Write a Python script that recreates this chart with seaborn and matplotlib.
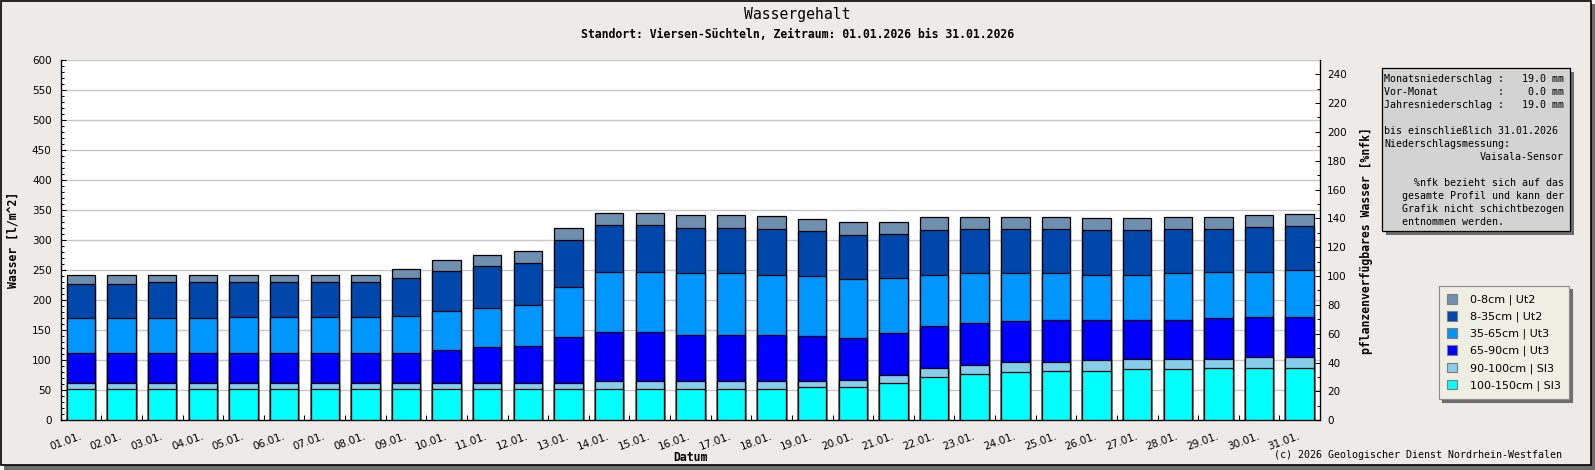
import numpy as np
import pandas as pd
import seaborn as sns
import matplotlib
matplotlib.use("Agg")
import matplotlib.pyplot as plt
from matplotlib.patches import Patch, Rectangle
from matplotlib.ticker import FixedLocator, MultipleLocator

# --- data (l/m^2 per soil layer) ---
days = ["%02d.01." % d for d in range(1, 32)]
layers = ["0-8cm | Ut2", "8-35cm | Ut2", "35-65cm | Ut3",
          "65-90cm | Ut3", "90-100cm | Sl3", "100-150cm | Sl3"]
colors = ["#6F8FAF", "#0047AB", "#0096FF", "#0000FF", "#87CEEB", "#00FFFF"]

s_0_8 = [14, 15, 13, 13, 13, 13, 13, 13, 15, 19, 18, 20, 20, 20, 20, 22,
         22, 22, 20, 22, 20, 21, 20, 20, 20, 20, 20, 20, 20, 20, 20]
s_8_35 = [57, 57, 59, 59, 57, 57, 57, 57, 63, 67, 69, 69, 77, 77, 77, 75,
          75, 75, 75, 73, 73, 74, 73, 73, 73, 74, 74, 73, 71, 74, 73]
s_35_65 = [59, 58, 58, 58, 60, 60, 60, 60, 61, 64, 66, 69, 84, 101, 101, 102,
           103, 101, 100, 97, 92, 86, 83, 80, 78, 76, 75, 77, 76, 76, 78]
s_65_90 = [49, 50, 50, 50, 50, 50, 50, 50, 50, 55, 59, 61, 76, 82, 82, 78,
           77, 77, 75, 71, 70, 70, 69, 68, 69, 67, 66, 65, 68, 67, 67]
s_90_100 = [10, 10, 10, 10, 10, 10, 10, 10, 10, 10, 10, 10, 10, 12, 12, 12,
            12, 12, 10, 12, 13, 14, 16, 17, 16, 17, 17, 18, 16, 18, 17]
s_100_150 = [53, 53, 53, 53, 53, 53, 53, 53, 53, 53, 53, 53, 53, 53, 53, 53,
             53, 53, 55, 55, 62, 73, 77, 80, 82, 83, 85, 85, 87, 87, 88]

info_lines = [
    ("Monatsniederschlag :   19.0 mm", "left"),
    ("Vor-Monat          :    0.0 mm", "left"),
    ("Jahresniederschlag :   19.0 mm", "left"),
    ("", "left"),
    ("bis einschließlich 31.01.2026", "left"),
    ("Niederschlagsmessung:", "left"),
    ("Vaisala-Sensor", "right"),
    ("", "left"),
    ("%nfk bezieht sich auf das", "right"),
    ("gesamte Profil und kann der", "right"),
    ("Grafik nicht schichtbezogen", "right"),
    ("entnommen werden.".ljust(27), "right"),
]

# stacked: cumulative from the bottom layer up
series = [s_0_8, s_8_35, s_35_65, s_65_90, s_90_100, s_100_150]
df = pd.DataFrame({"Datum": days})
cum = np.zeros(len(days))
for name, vals in zip(reversed(layers), reversed(series)):
    cum = cum + np.array(vals)
    df[name] = cum

W, H = 1595, 470
MONO = "DejaVu Sans Mono"
fig = plt.figure(figsize=(W / 100, H / 100), dpi=100, facecolor="white")

# frame with drop shadow
fig.add_artist(Rectangle((4 / W, 0), 1 - 4 / W, 1 - 4 / H, transform=fig.transFigure,
                         facecolor="#6E6E6E", edgecolor="none", zorder=-20))
fig.add_artist(Rectangle((0.5 / W, 5 / H), 1590 / W, 464.5 / H, transform=fig.transFigure,
                         facecolor="#EEEAE8", edgecolor="black", lw=1.2, zorder=-19))

ax = fig.add_axes([60.7 / W, 1 - 420.3 / H, 1259.3 / W, 360 / H])
ax.set_facecolor("white")

# draw tallest stack first, lower stacks on top
for name, col in zip(layers, colors):
    sns.barplot(data=df, x="Datum", y=name, color=col, saturation=1, width=0.7,
                edgecolor="black", linewidth=0.9, errorbar=None, ax=ax, zorder=3)

ax.set_ylim(0, 600)
ax.set_xlim(-0.5, len(days) - 0.5)
ax.yaxis.set_major_locator(MultipleLocator(50))
ax.yaxis.set_minor_locator(MultipleLocator(10))
ax.grid(axis="y", color="#C8C8C8", lw=1, zorder=0)
ax.set_axisbelow(True)
ax.xaxis.set_minor_locator(FixedLocator(np.arange(0.5, len(days) - 1, 1)))
ax.tick_params(axis="x", which="major", length=0, pad=11, labelsize=7.5)
ax.tick_params(axis="x", which="minor", direction="in", length=3.6, width=0.75)
ax.tick_params(axis="y", which="major", direction="in", length=3.6, width=0.75,
               pad=6.5, labelsize=7.5)
ax.tick_params(axis="y", which="minor", direction="in", length=2.2, width=0.75)
for lab in ax.get_xticklabels():
    lab.set_rotation(20)
    lab.set_ha("right")
    lab.set_va("center")
    lab.set_rotation_mode("anchor")
ax.spines["top"].set_visible(False)
for s in ("left", "bottom"):
    ax.spines[s].set_linewidth(0.9)

ax.set_xlabel("Datum", fontfamily=MONO, fontweight="bold", fontsize=8.3, va="center")
ax.xaxis.set_label_coords(0.5, (420.3 - 457.3) / 360)
ax.set_ylabel("Wasser [l/m^2]", fontfamily=MONO, fontweight="bold", fontsize=8.3, va="center")
ax.yaxis.set_label_coords((13 - 60.7) / 1259.3, 0.5)

ax2 = ax.twinx()
ax2.set_ylim(0, 249.6)
ax2.yaxis.set_major_locator(MultipleLocator(20))
ax2.yaxis.set_minor_locator(MultipleLocator(10))
ax2.tick_params(axis="y", which="major", direction="in", length=3.6, width=0.75,
                pad=5, labelsize=7.5)
ax2.tick_params(axis="y", which="minor", direction="in", length=2.2, width=0.75)
ax2.spines["top"].set_visible(False)
ax2.spines["right"].set_linewidth(0.9)
ax2.set_ylabel("pflanzenverfügbares Wasser [%nfk]", fontfamily=MONO, fontweight="bold",
               fontsize=8.3, rotation=90, va="center")
ax2.yaxis.set_label_coords((1366 - 60.7) / 1259.3, 0.5)

# titles
fig.text(797.5 / W, 1 - 14 / H, "Wassergehalt", fontfamily=MONO, fontsize=10.6,
         ha="center", va="center")
fig.text(797.5 / W, 1 - 34 / H, "Standort: Viersen-Süchteln, Zeitraum: 01.01.2026 bis 31.01.2026",
         fontfamily=MONO, fontweight="bold", fontsize=8.3, ha="center", va="center")
fig.text(1562 / W, 1 - 455 / H, "(c) 2026 Geologischer Dienst Nordrhein-Westfalen",
         fontfamily=MONO, fontsize=7.2, ha="right", va="center")

# info box
bx0, bx1, by0, by1 = 1381.7, 1570, 68.3, 230.7
fig.add_artist(Rectangle(((bx0 + 4) / W, 1 - (by1 + 4) / H), (bx1 - bx0) / W, (by1 - by0) / H,
                         transform=fig.transFigure, facecolor="#6E6E6E", edgecolor="none"))
fig.add_artist(Rectangle((bx0 / W, 1 - by1 / H), (bx1 - bx0) / W, (by1 - by0) / H,
                         transform=fig.transFigure, facecolor="#D3D3D3", edgecolor="black", lw=0.9))
for i, (txt, al) in enumerate(info_lines):
    x = 1384 if al == "left" else 1564
    fig.text(x / W, 1 - (79.3 + i * 12.95) / H, txt, fontfamily=MONO, fontsize=7.2,
             ha=al, va="center")

# legend
handles = [Patch(facecolor=c, edgecolor="#7F7F7F", lw=0.8) for c in colors]
leg = fig.legend(handles, layers, loc="upper left", bbox_to_anchor=(1439 / W, 1 - 286 / H),
                 frameon=True, fancybox=False, facecolor="#EEEEE2", edgecolor="#8C8C8C",
                 framealpha=1, shadow={"color": "#6E6E6E", "alpha": 1}, fontsize=8,
                 handlelength=0.9, handleheight=0.9, handletextpad=1.1, borderpad=0.75,
                 labelspacing=0.55, borderaxespad=0)
leg.get_frame().set_linewidth(0.8)

fig.savefig("out.png", dpi=100, facecolor=fig.get_facecolor())
